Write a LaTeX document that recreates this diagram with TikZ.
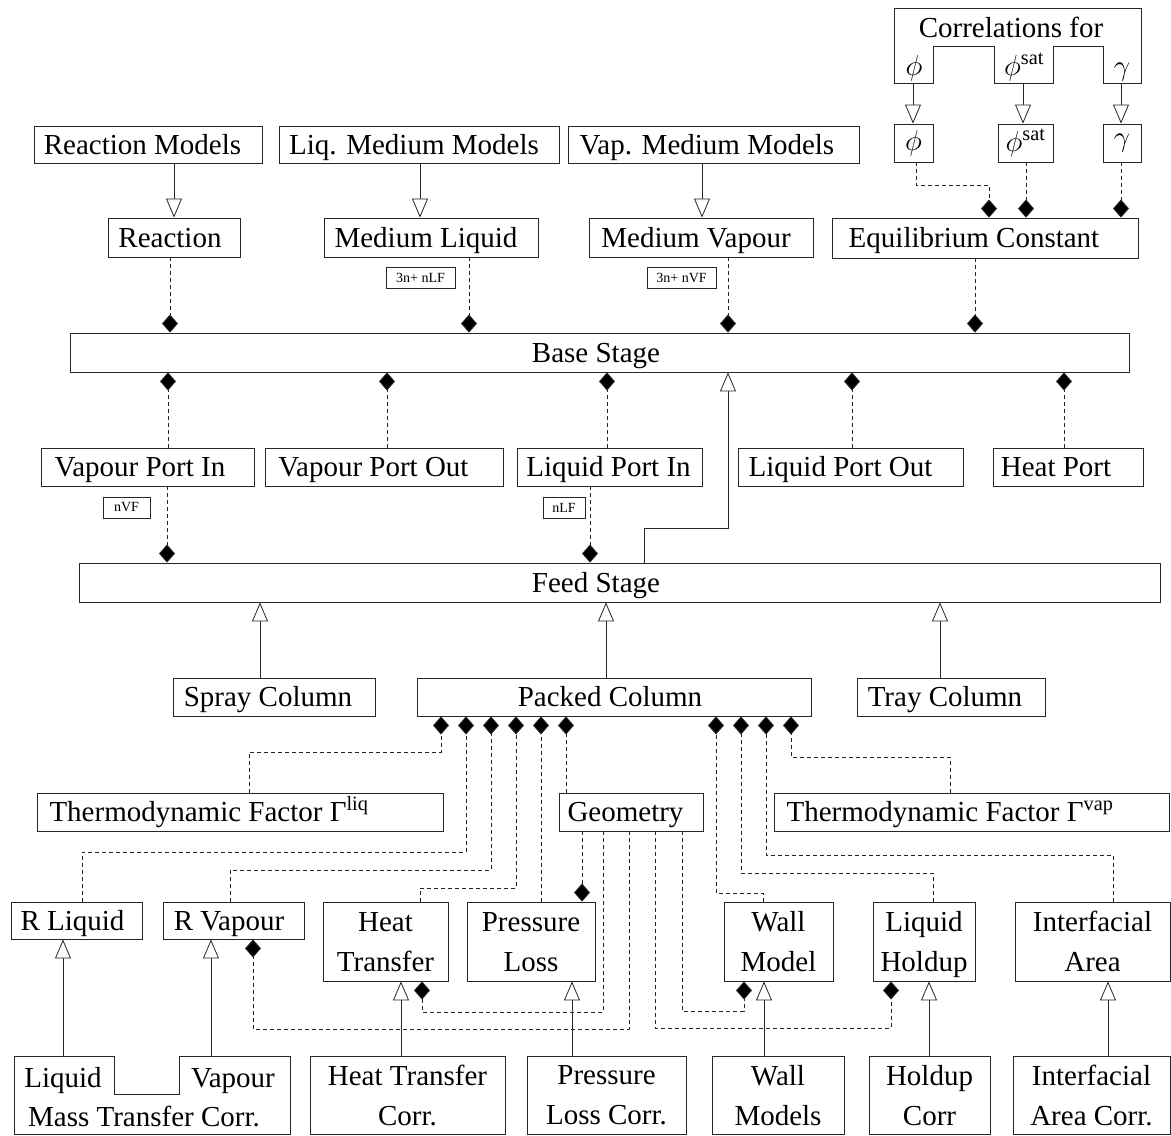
\documentclass[tikz,border=0pt]{standalone}
\usepackage{fix-cm}
\usepackage{fontspec}
\setmainfont{Liberation Serif}
\usetikzlibrary{arrows.meta}
\newcommand\mybox[7][]{\node[box,#1,minimum width={(#5-#3)*1pt},minimum height={(#6-#4)*1pt}] (#2) at ({(#3+#5)/2},{(#4+#6)/2}) {#7};}
\begin{document}
\begin{tikzpicture}[x=1pt,y=-1pt,
  box/.style={draw=black!85, line width=0.9pt, inner sep=0pt, font=\fontsize{29}{40}\selectfont},
  one/.style={text height=19pt, text depth=0pt},
  two/.style={align=center, text depth=0pt},
  small/.style={box, font=\fontsize{14}{16}\selectfont, line width=0.7pt},
  txt/.style={inner sep=0pt, anchor=base, font=\fontsize{29}{40}\selectfont},
  dep/.style={draw=black!85, line width=0.8pt, dash pattern=on 4pt off 3pt, -{Diamond[length=18pt,width=16pt,fill=black]}},
  gen/.style={draw=black!85, line width=0.8pt, -{Triangle[open,length=19pt,width=16pt,fill=white]}},
  outl/.style={draw=black!85, line width=0.9pt}
]
\useasboundingbox (0,0) rectangle (1171,1136);

% ---- Correlations composite
\draw[outl] (894,83) -- (894,8) -- (1141,8) -- (1141,83) -- (1103,83) -- (1103,46) -- (1053,46) -- (1053,83) -- (994,83) -- (994,46) -- (933,46) -- (933,83) -- cycle;
\node[txt] (corr) at (1011,37) {Correlations for};
\node[txt] (corrphi) at (914,75) {$\phi$};
\node[txt] (corrphis) at (1024,75) {$\phi$\textsuperscript{sat}};
\node[txt] (corrgam) at (1122,75) {$\gamma$};
\coordinate (ct1) at (913,83);
\coordinate (ct2) at (1023,83);
\coordinate (ct3) at (1121,83);

% ---- top row
\mybox[one]{rm}{34}{126}{262}{163}{Reaction Models\hspace*{11pt}}
\mybox[one]{lm}{279}{126}{559}{163}{Liq. Medium Models\hspace*{10pt}}
\mybox[one]{vm}{568}{126}{859}{163}{Vap. Medium Models\hspace*{13pt}}
\mybox{phib}{894}{124}{933}{162}{$\phi$}
\mybox{phisb}{998}{124}{1053}{162}{$\phi$\textsuperscript{sat}}
\mybox{gamb}{1103}{124}{1141}{162}{$\gamma$}

\mybox[one]{re}{108}{218}{240}{257}{Reaction\hspace*{8pt}}
\mybox[one]{ml}{324}{218}{538}{257}{Medium Liquid\hspace*{10pt}}
\mybox[one]{mv}{589}{218}{813}{257}{Medium Vapour\hspace*{10pt}}
\mybox[one]{eq}{832}{218}{1138}{258}{Equilibrium Constant\hspace*{22pt}}

\mybox[small]{lab1}{386}{267}{455}{288}{3n+ nLF}
\mybox[small]{lab2}{647}{267}{716}{288}{3n+ nVF}

\mybox[one]{bs}{70}{333}{1129}{372}{Base Stage\hspace*{7pt}}

\mybox[one]{vpi}{41}{448}{254}{486}{Vapour Port In\hspace*{15pt}}
\mybox[one]{vpo}{265}{448}{503}{486}{Vapour Port Out\hspace*{21pt}}
\mybox[one]{lpi}{517}{448}{702}{486}{Liquid Port In\hspace*{2pt}}
\mybox[one]{lpo}{738}{448}{963}{486}{Liquid Port Out\hspace*{20pt}}
\mybox[one]{hp}{993}{448}{1143}{486}{Heat Port\hspace*{24pt}}

\mybox[small]{nvf}{103}{497}{150}{518}{nVF}
\mybox[small]{nlf}{543}{497}{585}{518}{nLF}

\mybox[one]{fs}{79}{563}{1160}{602}{Feed Stage\hspace*{47pt}}

\mybox[one]{sc}{173}{678}{375}{716}{Spray Column\hspace*{12pt}}
\mybox[one]{pc}{417}{678}{811}{716}{Packed Column\hspace*{8pt}}
\mybox[one]{tc}{857}{678}{1045}{716}{Tray Column\hspace*{12pt}}

\mybox[one]{gl}{37}{793}{443}{831}{Thermodynamic Factor Γ\textsuperscript{liq}\hspace*{62pt}}
\mybox[one]{geo}{559}{793}{703}{831}{Geometry\hspace*{11pt}}
\mybox[one]{gv}{774}{793}{1169}{831}{Thermodynamic Factor Γ\textsuperscript{vap}\hspace*{43pt}}

\mybox[one]{rl}{11}{902}{142}{939}{R Liquid\hspace*{8pt}}
\mybox[one]{rv}{163}{902}{304}{939}{R Vapour\hspace*{9pt}}
\mybox[two]{ht}{323}{902}{448}{981}{Heat\\Transfer}
\mybox[two]{pl}{467}{902}{595}{981}{Pressure\\Loss}
\mybox[two]{wm}{724}{902}{833}{981}{Wall\\Model}
\mybox[two]{lh}{873}{902}{975}{981}{Liquid\\Holdup}
\mybox[two]{ia}{1015}{902}{1170}{981}{Interfacial\\Area}

% ---- Mass transfer composite
\draw[outl] (14,1056) -- (114,1056) -- (114,1094) -- (179,1094) -- (179,1056) -- (290,1056) -- (290,1134) -- (14,1134) -- cycle;
\node[txt] (mtl) at (63,1087) {Liquid};
\node[txt] (mtv) at (233,1087) {Vapour};
\node[txt] (mtc) at (144,1126) {Mass Transfer Corr.};
\coordinate (mt1) at (63,1056);
\coordinate (mt2) at (211,1056);

\mybox[two]{htc}{310}{1056}{505}{1134}{Heat Transfer\\Corr.}
\mybox[two]{plc}{527}{1056}{686}{1134}{Pressure\\Loss Corr.}
\mybox[two]{wms}{712}{1056}{844}{1134}{Wall\\Models}
\mybox[two]{hc}{869}{1056}{990}{1134}{Holdup\\Corr}
\mybox[two]{iac}{1013}{1056}{1170}{1134}{Interfacial\\Area Corr.}

% ---- generalisations
\draw[gen] (rm.south -| 174,0) -- (re.north -| 174,0);
\draw[gen] (lm.south -| 420,0) -- (ml.north -| 420,0);
\draw[gen] (vm.south -| 702,0) -- (mv.north -| 702,0);
\draw[gen] (ct1) -- (phib.north -| ct1);
\draw[gen] (ct2) -- (phisb.north -| ct2);
\draw[gen] (ct3) -- (gamb.north -| ct3);
\draw[gen] (fs.north -| 644,0) |- (728,528) -- (bs.south -| 728,0);
\draw[gen] (sc.north -| 260,0) -- (fs.south -| 260,0);
\draw[gen] (pc.north -| 606,0) -- (fs.south -| 606,0);
\draw[gen] (tc.north -| 940,0) -- (fs.south -| 940,0);
\draw[gen] (mt1) -- (rl.south -| mt1);
\draw[gen] (mt2) -- (rv.south -| mt2);
\draw[gen] (htc.north -| 401,0) -- (ht.south -| 401,0);
\draw[gen] (plc.north -| 572,0) -- (pl.south -| 572,0);
\draw[gen] (wms.north -| 764,0) -- (wm.south -| 764,0);
\draw[gen] (hc.north -| 929,0) -- (lh.south -| 929,0);
\draw[gen] (iac.north -| 1108,0) -- (ia.south -| 1108,0);

% ---- compositions
\draw[dep] (phib.south -| 916,0) |- (989,185) -- (eq.north -| 989,0);
\draw[dep] (phisb.south -| 1026,0) -- (eq.north -| 1026,0);
\draw[dep] (gamb.south -| 1121,0) -- (eq.north -| 1121,0);

\draw[dep] (re.south -| 170,0) -- (bs.north -| 170,0);
\draw[dep] (ml.south -| 469,0) -- (bs.north -| 469,0);
\draw[dep] (mv.south -| 728,0) -- (bs.north -| 728,0);
\draw[dep] (eq.south -| 975,0) -- (bs.north -| 975,0);

\draw[dep] (vpi.north -| 168,0) -- (bs.south -| 168,0);
\draw[dep] (vpo.north -| 387,0) -- (bs.south -| 387,0);
\draw[dep] (lpi.north -| 607,0) -- (bs.south -| 607,0);
\draw[dep] (lpo.north -| 852,0) -- (bs.south -| 852,0);
\draw[dep] (hp.north -| 1064,0) -- (bs.south -| 1064,0);

\draw[dep] (vpi.south -| 167,0) -- (fs.north -| 167,0);
\draw[dep] (lpi.south -| 590,0) -- (fs.north -| 590,0);

\draw[dep] (gl.north -| 249,0) |- (441,752) -- (pc.south -| 441,0);
\draw[dep] (rl.north -| 82,0) |- (466,852) -- (pc.south -| 466,0);
\draw[dep] (rv.north -| 230,0) |- (491,870) -- (pc.south -| 491,0);
\draw[dep] (ht.north -| 420,0) |- (516,888) -- (pc.south -| 516,0);
\draw[dep] (pl.north -| 541,0) -- (pc.south -| 541,0);
\draw[dep] (geo.north -| 566,0) -- (pc.south -| 566,0);
\draw[dep] (wm.north -| 763,0) |- (716,893) -- (pc.south -| 716,0);
\draw[dep] (lh.north -| 933,0) |- (741,873) -- (pc.south -| 741,0);
\draw[dep] (ia.north -| 1113,0) |- (766,855) -- (pc.south -| 766,0);
\draw[dep] (gv.north -| 950,0) |- (791,757) -- (pc.south -| 791,0);

\draw[dep] (geo.south -| 582,0) -- (pl.north -| 582,0);
\draw[dep] (geo.south -| 603,0) |- (422,1012) -- (ht.south -| 422,0);
\draw[dep] (geo.south -| 629,0) |- (253,1029) -- (rv.south -| 253,0);
\draw[dep] (geo.south -| 655,0) |- (891,1028) -- (lh.south -| 891,0);
\draw[dep] (geo.south -| 682,0) |- (744,1011) -- (wm.south -| 744,0);
\end{tikzpicture}
\end{document}
